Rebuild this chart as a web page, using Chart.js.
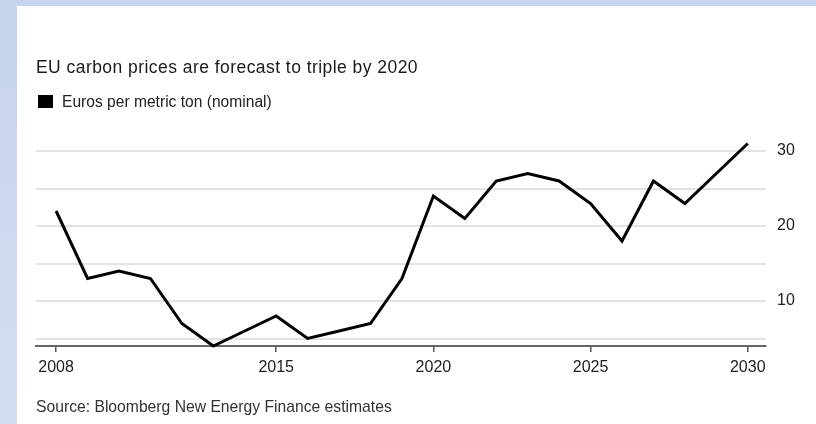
<!DOCTYPE html>
<html>
<head>
<meta charset="utf-8">
<script src="https://cdn.jsdelivr.net/npm/chart.js@4/dist/chart.umd.min.js"></script>
<style>
  html, body { margin: 0; padding: 0; }
  body { width: 816px; height: 424px; position: relative; overflow: hidden;
         background: linear-gradient(180deg, #c5d3ed 0%, #d3def1 100%);
         font-family: "Liberation Sans", Arial, sans-serif; }
  #panel { position: absolute; left: 17px; top: 6px; right: 0; bottom: 0; background: #fff; }
  #chart { position: absolute; left: 0; top: 0; }
  .txt { position: absolute; white-space: nowrap; line-height: 1; }
  #title { left: 36px; top: 59px; font-size: 17.5px; letter-spacing: 0.45px; color: #1a1a1a; }
  #legbox { position: absolute; left: 38px; top: 95px; width: 15px; height: 13px; background: #000; }
  #legtxt { left: 62px; top: 94px; font-size: 15.6px; color: #222; }
  #source { left: 36px; top: 399px; font-size: 15.7px; color: #333; }
</style>
</head>
<body>
<div id="panel"></div>
<canvas id="chart" width="816" height="424"></canvas>
<div class="txt" id="title">EU carbon prices are forecast to triple by 2020</div>
<div id="legbox"></div>
<div class="txt" id="legtxt">Euros per metric ton (nominal)</div>
<div class="txt" id="source">Source: Bloomberg New Energy Finance estimates</div>
<script>
// ---- data ----
const years  = [2008, 2009, 2010, 2011, 2012, 2013, 2014, 2015, 2016, 2017, 2018, 2019,
                2020, 2021, 2022, 2023, 2024, 2025, 2026, 2027, 2028, 2029, 2030];
const prices = [22, 13, 14, 13, 7, 4, 6, 8, 5, 6, 7, 13,
                24, 21, 26, 27, 26, 23, 18, 26, 23, 27, 31];
const xTickYears = [2008, 2015, 2020, 2025, 2030];
const yTickValues = [5, 10, 15, 20, 25, 30];
const yLabelValues = [10, 20, 30];
const seriesLabel = 'Euros per metric ton (nominal)';

const points = years.map((y, i) => ({ x: y, y: prices[i] }));

new Chart(document.getElementById('chart'), {
  type: 'line',
  data: {
    datasets: [{
      label: seriesLabel,
      data: points,
      borderColor: '#000',
      borderWidth: 3,
      borderJoinStyle: 'miter',
      pointRadius: 0,
      tension: 0,
      fill: false,
      clip: false
    }]
  },
  options: {
    responsive: false,
    animation: false,
    devicePixelRatio: 1,
    layout: { padding: { left: 36, top: 143.5, right: 0, bottom: 0 } },
    plugins: { legend: { display: false }, title: { display: false }, tooltip: { enabled: false } },
    scales: {
      x: {
        type: 'linear',
        position: 'bottom',
        min: 2007.36,
        max: 2030.58,
        afterBuildTicks: s => { s.ticks = xTickYears.map(v => ({ value: v })); },
        afterFit: s => { s.height = 78; },
        grid: { drawOnChartArea: false, drawTicks: true, tickLength: 6, color: '#555', lineWidth: 1.5 },
        border: { display: true, color: '#666', width: 2 },
        ticks: {
          color: '#222',
          font: { family: '"Liberation Sans", Arial, sans-serif', size: 16 },
          padding: 6,
          maxRotation: 0,
          autoSkip: false,
          callback: v => String(v)
        }
      },
      y: {
        type: 'linear',
        position: 'right',
        min: 4,
        max: 31,
        afterBuildTicks: s => { s.ticks = yTickValues.map(v => ({ value: v })); },
        afterFit: s => { s.width = 50; },
        grid: { drawTicks: false, color: '#e3e3e3', lineWidth: 2 },
        border: { display: false },
        ticks: {
          color: '#222',
          font: { family: '"Liberation Sans", Arial, sans-serif', size: 16 },
          padding: 11,
          callback: v => yLabelValues.includes(v) ? String(v) : ''
        }
      }
    }
  }
});
</script>
</body>
</html>
